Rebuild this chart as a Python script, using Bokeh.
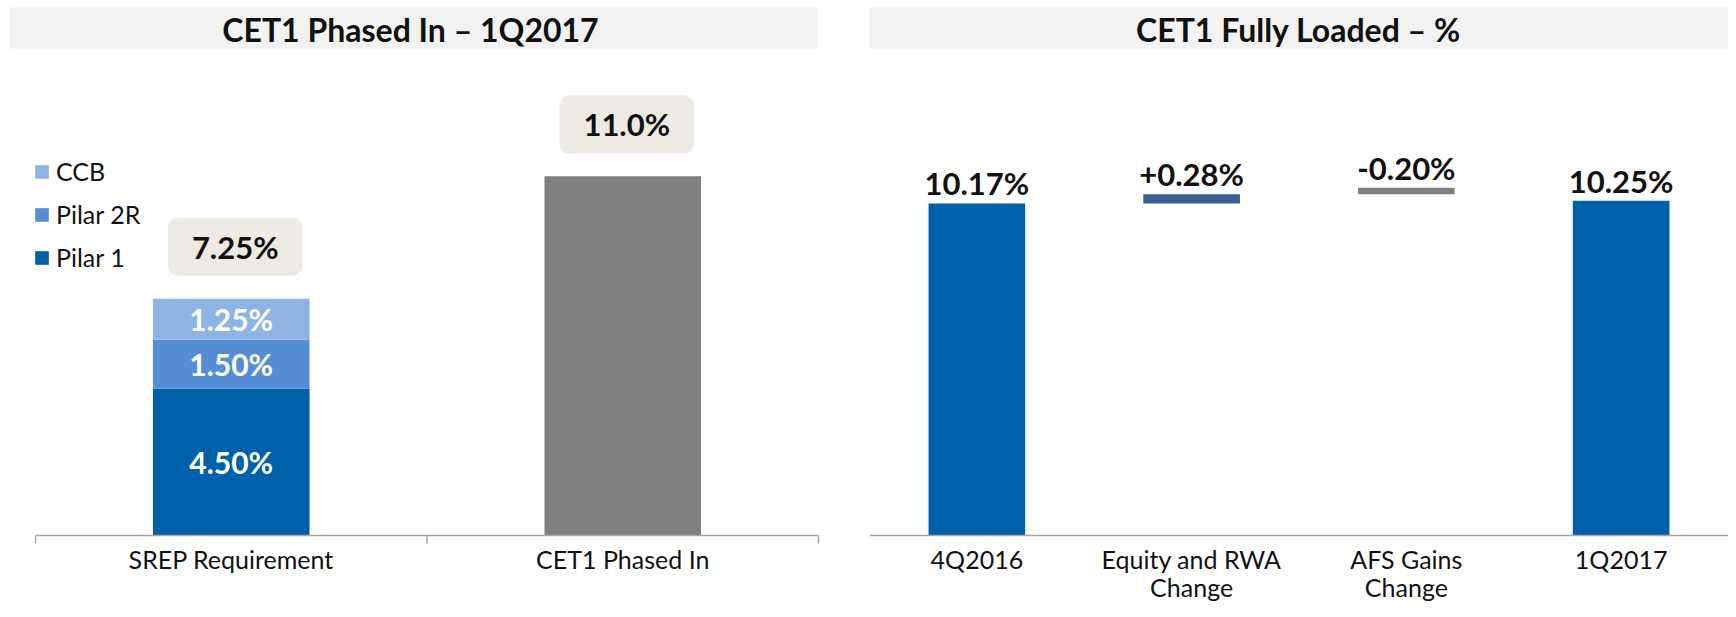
import numpy as np
from bokeh.plotting import figure
from bokeh.models import (Span, BoxAnnotation, Label, Legend, LegendItem, Range1d,
                          ColumnDataSource, FactorRange)
from bokeh.layouts import row
from bokeh.core.properties import value
from bokeh.embed import file_html
from bokeh.resources import INLINE

# ---------------- data ----------------
left_title = "CET1 Phased In – 1Q2017"
left_categories = ["SREP Requirement", "CET1 Phased In"]
srep_components = ["Pilar 1", "Pilar 2R", "CCB"]
srep_values = [4.50, 1.50, 1.25]
cet1_phased_in = [11.0]

right_title = "CET1 Fully Loaded – %"
right_categories = ["4Q2016", "Equity and RWA\nChange", "AFS Gains\nChange", "1Q2017"]
opening_value = 10.17
change_values = [0.28, -0.20]
closing_value = 10.25

# ---------------- style ----------------
FONT = "Lato"
PILAR1 = "#0060A9"
PILAR2R = "#558ED5"
CCB = "#8DB4E2"
GRAY = "#808080"
EQUITY = "#366092"
BAND = "#F2F2F2"
BOX = "#EDEBE1"
AXIS = "#A6A6A6"
INK = "#111111"
PX = 32.65          # pixels per percentage point
ZERO = 535          # canvas row of the zero line
H = 601
W1, W2 = 866, 862


def base_style(p):
    p.outline_line_color = None
    p.grid.grid_line_color = None
    p.background_fill_color = "white"
    p.border_fill_color = "white"


def title_band(p, right, cx, text):
    p.add_layout(BoxAnnotation(right=right, top=7, bottom=48,
                               right_units="canvas", top_units="canvas",
                               bottom_units="canvas",
                               fill_color=BAND, fill_alpha=1, line_color=None))
    p.add_layout(Label(x=cx, y=29, x_units="canvas", y_units="canvas", text=text,
                       text_align="center", text_baseline="middle", text_font=FONT,
                       text_font_style="bold", text_font_size="32px", text_color=INK))


# ---------------- left panel ----------------
FB1 = 543  # frame bottom of the left panel
x1 = FactorRange(factors=left_categories, range_padding=0.0664,
                 range_padding_units="absolute")
p1 = figure(x_range=x1, y_range=Range1d(-(FB1 - ZERO) / PX, ZERO / PX),
            width=W1, height=H, output_backend="svg", toolbar_location=None,
            y_axis_location=None, min_border_left=9, min_border_right=22,
            min_border_top=0, min_border_bottom=H - FB1, frame_align=False)
base_style(p1)
ax = p1.xaxis[0]
ax.axis_line_color = None
ax.major_tick_line_color = None
ax.minor_tick_line_color = None
ax.major_tick_in = 0
ax.major_tick_out = 0
ax.major_label_text_font = FONT
ax.major_label_text_font_size = "25px"
ax.major_label_text_color = INK
ax.major_label_standoff = 0

src1 = ColumnDataSource({"x": [left_categories[0]],
                         **{c: [v] for c, v in zip(srep_components, srep_values)}})
stack = p1.vbar_stack(srep_components, x="x", width=0.4, source=src1,
                      fill_color=[PILAR1, PILAR2R, CCB], line_color=None)
p1.vbar(x=[left_categories[1]], top=cet1_phased_in, width=0.4, fill_color=GRAY, line_color=None)

seg_bottoms = np.concatenate([[0.0], np.cumsum(srep_values)[:-1]])
seg_mids = seg_bottoms + np.array(srep_values) / 2
p1.text(x=[left_categories[0]] * len(srep_values), y=seg_mids,
        text=[f"{v:.2f}%" for v in srep_values], text_color="white",
        text_font=value(FONT), text_font_style="bold", text_font_size="30px",
        text_align="center", text_baseline="middle")

totals = [sum(srep_values), cet1_phased_in[0]]
total_labels = [f"{totals[0]:.2f}%", f"{totals[1]:.1f}%"]
p1.text(x=left_categories, y=totals, text=total_labels, text_color=INK,
        text_font=value(FONT), text_font_style="bold", text_font_size="31px",
        text_align="center", text_baseline="middle", x_offset=4, y_offset=-52,
        background_fill_color=BOX, border_radius=10, padding=[24, 10])

# category axis line with boundary ticks
p1.segment(x0=[(left_categories[0], -0.5)], y0=[0], x1=[(left_categories[-1], 0.5)], y1=[0],
           line_color=AXIS, line_width=1.5)
bounds = [(c, -0.5) for c in left_categories] + [(left_categories[-1], 0.5)]
p1.segment(x0=bounds, y0=[0] * len(bounds), x1=bounds, y1=[-9 / PX] * len(bounds),
           line_color=AXIS, line_width=1.5)

legend = Legend(items=[LegendItem(label=c, renderers=[r])
                       for c, r in reversed(list(zip(srep_components, stack)))],
                location=(24, 271), glyph_width=17, glyph_height=17, label_standoff=6,
                spacing=13, padding=0, margin=0, border_line_color=None,
                background_fill_alpha=0, label_text_font=FONT,
                label_text_font_size="25px", label_text_color=INK)
p1.add_layout(legend)
title_band(p1, 817, 410, left_title)

# ---------------- right panel ----------------
levels = opening_value + np.concatenate([[0.0], np.cumsum(change_values)])
bar_bottoms = [0.0] + [levels[i] for i in range(len(change_values))] + [0.0]
bar_tops = ([opening_value]
            + [levels[i] + abs(c) for i, c in enumerate(change_values)]
            + [closing_value])
bar_labels = ([f"{opening_value:.2f}%"] + [f"{c:+.2f}%" for c in change_values]
              + [f"{closing_value:.2f}%"])
bar_colors = [PILAR1, EQUITY, GRAY, PILAR1]

p2 = figure(x_range=right_categories, y_range=Range1d(-(H - ZERO) / PX, ZERO / PX),
            width=W2, height=H, output_backend="svg", toolbar_location=None,
            x_axis_location=None, y_axis_location=None, min_border_left=3,
            min_border_right=0, min_border_top=0, min_border_bottom=0, frame_align=False)
base_style(p2)
p2.add_layout(Span(location=0, dimension="width", line_color=AXIS, line_width=1.5))

src2 = ColumnDataSource(dict(x=right_categories, bottom=bar_bottoms, top=bar_tops,
                             label=bar_labels, color=bar_colors,
                             base=[0.0] * len(right_categories)))
p2.vbar(x="x", bottom="bottom", top="top", width=0.45, fill_color="color",
        line_color=None, source=src2)
p2.text(x="x", y="top", text="label", source=src2, text_color=INK,
        text_font=value(FONT), text_font_style="bold", text_font_size="31px",
        text_align="center", text_baseline="bottom", y_offset=-1)
# category labels along the zero line
p2.text(x="x", y="base", text="x", source=src2, text_color=INK,
        text_font=value(FONT), text_font_size="25px", text_align="center",
        text_baseline="top", text_line_height=0.95, y_offset=8)
title_band(p2, 862, 432, right_title)

layout = row(p1, p2)
open("out.html", "w").write(file_html(layout, INLINE))
